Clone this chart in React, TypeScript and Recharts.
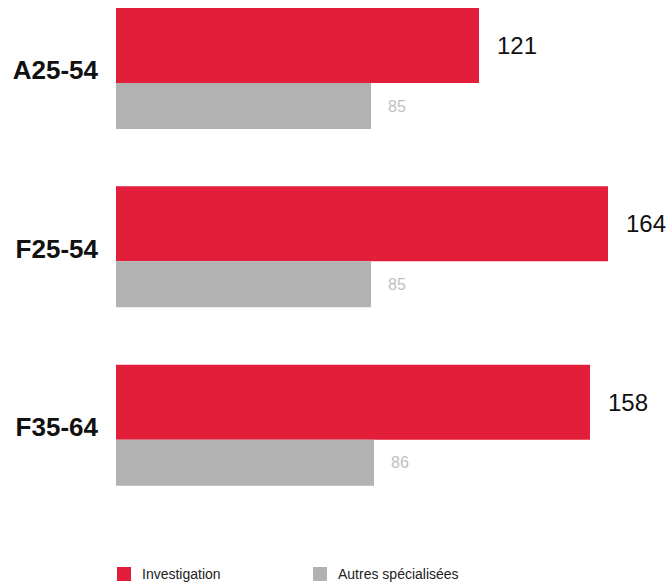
import { BarChart, Bar, XAxis, YAxis, LabelList } from 'recharts'

const CATEGORIES = ['A25-54', 'F25-54', 'F35-64']
const INVESTIGATION = [121, 164, 158]
const AUTRES = [85, 85, 86]

const SERIES = [
  { key: 'investigation', name: 'Investigation', color: '#e21e3a', size: 75 },
  { key: 'autres', name: 'Autres spécialisées', color: '#b2b2b2', size: 46 },
]

const FONT = '"Liberation Sans", Arial, sans-serif'

const data = CATEGORIES.map((name, i) => ({
  name,
  investigation: INVESTIGATION[i],
  autres: AUTRES[i],
}))

function CategoryTick({ x, y, payload }: any) {
  return (
    <text x={x} y={y + 11} textAnchor="end" fontFamily={FONT} fontSize={26} fontWeight={700} fill="#111">
      {payload.value}
    </text>
  )
}

export default function App() {
  return (
    <div style={{ position: 'absolute', left: 0, top: 0, width: 671, height: 582, overflow: 'hidden', fontFamily: FONT }}>
      <div style={{ position: 'absolute', left: 0, top: -21 }}>
        <BarChart
          width={671}
          height={555}
          data={data}
          layout="vertical"
          margin={{ top: 0, right: 15, bottom: 20, left: 0 }}
          barGap={0}
        >
          <XAxis type="number" domain={[0, 180]} hide />
          <YAxis
            type="category"
            dataKey="name"
            width={116}
            axisLine={false}
            tickLine={false}
            tickSize={0}
            tickMargin={18}
            tick={<CategoryTick />}
          />
          <Bar dataKey="investigation" fill={SERIES[0].color} barSize={SERIES[0].size} isAnimationActive={false}>
            <LabelList dataKey="investigation" position="right" offset={18} fontSize={24} fill="#111" fontFamily={FONT} />
          </Bar>
          <Bar dataKey="autres" fill={SERIES[1].color} barSize={SERIES[1].size} isAnimationActive={false}>
            <LabelList dataKey="autres" position="right" offset={17} fontSize={16} fill="#c0c0c0" fontFamily={FONT} />
          </Bar>
        </BarChart>
      </div>

      <div style={{ position: 'absolute', left: 117, top: 567, display: 'flex' }}>
        {SERIES.map(s => (
          <div key={s.key} style={{ display: 'flex', alignItems: 'center', width: 196, gap: 11 }}>
            <div style={{ width: 14, height: 14, background: s.color }} />
            <span style={{ fontSize: 14, color: '#222', lineHeight: '14px' }}>{s.name}</span>
          </div>
        ))}
      </div>
    </div>
  )
}
